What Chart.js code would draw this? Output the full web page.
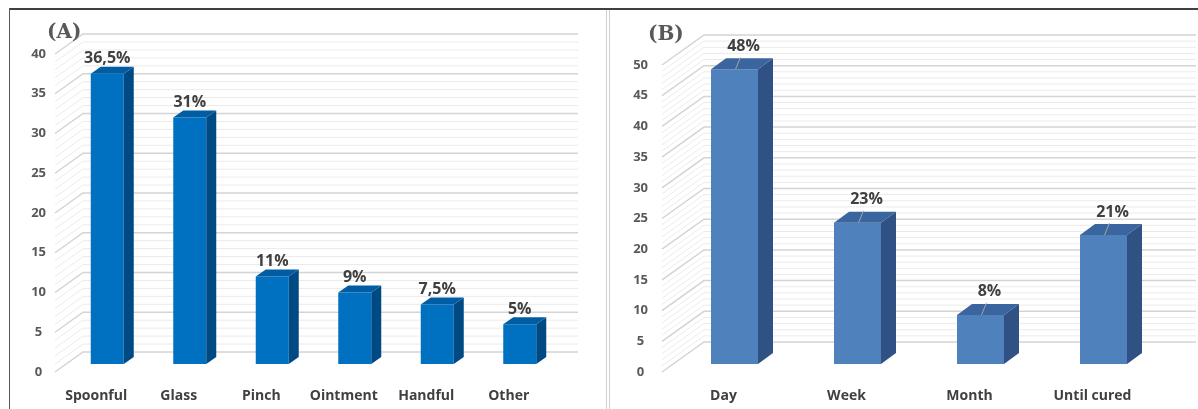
<!DOCTYPE html>
<html>
<head>
<meta charset="utf-8">
<script src="https://cdn.jsdelivr.net/npm/chart.js@4.4.1/dist/chart.umd.min.js"></script>
<style>
  html, body { margin: 0; padding: 0; background: #fff; }
  body { width: 1198px; height: 409px; position: relative; overflow: hidden; }
  .frameTop { position: absolute; left: 9px; top: 8px; width: 1189px; height: 2px; background: #404040; }
  .frameLeft { position: absolute; left: 9px; top: 8px; width: 1px; height: 401px; background: #595959; }
  .divider { position: absolute; top: 10px; width: 1px; height: 399px; background: #cfcfcf; }
  .panel { position: absolute; top: 0; height: 409px; }
  .panelTitle { position: absolute; font: bold 20px "DejaVu Serif", serif; color: #595959; }
</style>
</head>
<body>
<div class="panel" style="left:0;width:608px"><canvas id="chartA" width="608" height="409"></canvas></div>
<div class="panel" style="left:608px;width:590px"><canvas id="chartB" width="590" height="409"></canvas></div>
<div class="frameTop"></div>
<div class="frameLeft"></div>
<div class="divider" style="left:606px"></div>
<div class="divider" style="left:609px"></div>
<div class="panelTitle" style="left:47px;top:19px">(A)</div>
<div class="panelTitle" style="left:648px;top:21px">(B)</div>
<script>
// (A) amount used
const amountLabels = ['Spoonful', 'Glass', 'Pinch', 'Ointment', 'Handful', 'Other'];
const amountValues = [36.5, 31, 11, 9, 7.5, 5];
const amountTicksMax = 40;

// (B) treatment duration
const durationLabels = ['Day', 'Week', 'Month', 'Until cured'];
const durationValues = [48, 23, 8, 21];
const durationTicksMax = 50;

const tickFont = { family: 'Open Sans', size: 13, weight: 'bold' };
const categoryFont = { family: 'Open Sans', size: 14, weight: 'bold' };

function pct(v) {
  return String(v).replace('.', ',') + '%';
}

// Fake 3D: back wall + left wall grid, then top and side faces for every bar
const bars3d = {
  id: 'bars3d',
  beforeDatasetsDraw(chart, args, o) {
    const { ctx, chartArea } = chart;
    const y = chart.scales.y;
    ctx.save();
    for (let v = y.min; v <= y.max; v++) {
      const py = y.getPixelForValue(v);
      const major = v % 5 === 0;
      ctx.strokeStyle = major ? '#d4d4d4' : '#ebebeb';
      ctx.lineWidth = major ? 1.5 : 1;
      ctx.beginPath();
      ctx.moveTo(chartArea.left + o.frontDx, py + o.frontDy);
      ctx.lineTo(chartArea.left + o.wallDx, py + o.wallDy);
      ctx.lineTo(chartArea.right + o.wallDx, py + o.wallDy);
      ctx.stroke();
    }
    ctx.restore();
  },
  afterDatasetsDraw(chart, args, o) {
    const { ctx } = chart;
    const meta = chart.getDatasetMeta(0);
    const values = chart.data.datasets[0].data;
    ctx.save();
    meta.data.forEach((bar, i) => {
      const { x, y, base, width } = bar.getProps(['x', 'y', 'base', 'width'], true);
      const l = x - width / 2;
      const r = x + width / 2;

      ctx.fillStyle = o.sideColor;
      ctx.beginPath();
      ctx.moveTo(r, y);
      ctx.lineTo(r + o.barDx, y + o.barDy);
      ctx.lineTo(r + o.barDx, base + o.barDy);
      ctx.lineTo(r, base);
      ctx.closePath();
      ctx.fill();

      ctx.fillStyle = o.topColor;
      ctx.beginPath();
      ctx.moveTo(l, y);
      ctx.lineTo(l + o.barDx, y + o.barDy);
      ctx.lineTo(r + o.barDx, y + o.barDy);
      ctx.lineTo(r, y);
      ctx.closePath();
      ctx.fill();

      if (o.leader) {
        ctx.strokeStyle = '#a6a6a6';
        ctx.lineWidth = 1;
        ctx.beginPath();
        ctx.moveTo(x + 1, y);
        ctx.lineTo(x + 6, y + o.labelDy + 11);
        ctx.stroke();
      }

      ctx.fillStyle = '#404040';
      ctx.font = 'bold 16px "Open Sans"';
      ctx.textAlign = 'center';
      ctx.textBaseline = 'middle';
      ctx.fillText(pct(values[i]), x + o.labelDx, y + o.labelDy);
    });
    ctx.restore();
  }
};

function makeChart(id, labels, values, max, look) {
  return new Chart(document.getElementById(id), {
    type: 'bar',
    data: {
      labels: labels,
      datasets: [{
        data: values,
        backgroundColor: look.frontColor,
        borderWidth: 0,
        categoryPercentage: 1,
        barPercentage: look.barPct
      }]
    },
    options: {
      responsive: false,
      animation: false,
      layout: { padding: look.padding },
      scales: {
        x: {
          grid: { display: false, drawTicks: false },
          border: { display: false },
          ticks: {
            color: '#404040',
            font: categoryFont,
            padding: 24,
            labelOffset: look.frontDx,
            maxRotation: 0,
            autoSkip: false
          },
          afterFit(scale) { scale.height = 40; }
        },
        y: {
          min: 0,
          max: max,
          grid: { display: false, drawTicks: false },
          border: { display: false },
          ticks: {
            stepSize: 5,
            color: '#595959',
            font: tickFont,
            crossAlign: 'center',
            padding: look.tickPad,
            labelOffset: look.frontDy
          },
          afterFit(scale) { scale.width = look.axisWidth; }
        }
      },
      plugins: {
        legend: { display: false },
        tooltip: { enabled: false },
        bars3d: look
      }
    },
    plugins: [bars3d]
  });
}

makeChart('chartA', amountLabels, amountValues, amountTicksMax, {
  frontColor: '#0070C0',
  topColor: '#005DA3',
  sideColor: '#004A83',
  barPct: 0.4,
  padding: { left: 30, right: 47, top: 46, bottom: 5 },
  axisWidth: 36,
  tickPad: 20,
  frontDx: -11, frontDy: 8,
  wallDx: 17, wallDy: -12,
  barDx: 10, barDy: -7,
  labelDx: 0, labelDy: -15,
  leader: false
});

makeChart('chartB', durationLabels, durationValues, durationTicksMax, {
  frontColor: '#4F81BD',
  topColor: '#3B659E',
  sideColor: '#2F5183',
  barPct: 0.382,
  padding: { left: 24, right: 33, top: 57, bottom: 5 },
  axisWidth: 41,
  tickPad: 25,
  frontDx: -11, frontDy: 8,
  wallDx: 31, wallDy: -22,
  barDx: 15, barDy: -11,
  labelDx: 9, labelDy: -23,
  leader: true
});
</script>
</body>
</html>
